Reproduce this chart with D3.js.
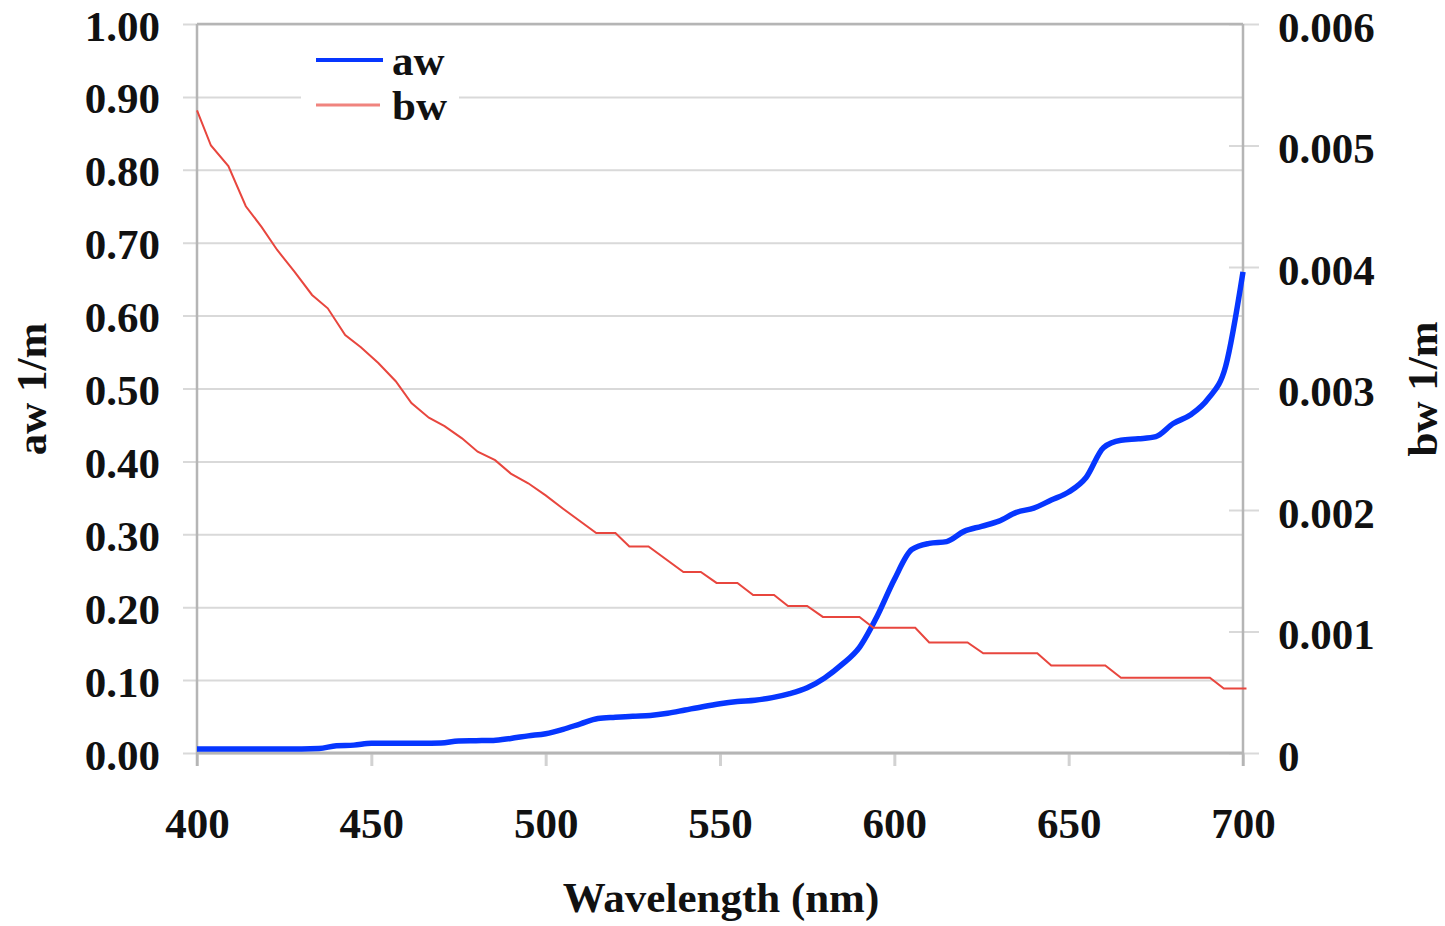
<!DOCTYPE html>
<html>
<head>
<meta charset="utf-8">
<script src="https://cdn.jsdelivr.net/npm/d3@7/dist/d3.min.js"></script>
<style>
  html, body { margin: 0; padding: 0; background: #fff; }
  svg { display: block; }
  text { font-family: "Liberation Serif", "Times New Roman", serif; font-weight: bold; fill: #111; }
</style>
</head>
<body>
<svg id="chart" width="1445" height="926"></svg>
<script>
// Pure-water absorption (aw) and scattering (bw) spectra, 400–700 nm
const wavelengths = [400,405,410,415,420,425,430,435,440,445,450,455,460,465,470,475,480,485,490,495,
  500,505,510,515,520,525,530,535,540,545,550,555,560,565,570,575,580,585,590,595,
  600,605,610,615,620,625,630,635,640,645,650,655,660,665,670,675,680,685,690,695,700];
const awValues = [0.0055,0.0055,0.0055,0.0055,0.0055,0.0056,0.0056,0.0062,0.0100,0.0108,
  0.0133,0.0133,0.0134,0.0135,0.0138,0.0166,0.0169,0.0172,0.0200,0.0235,
  0.0265,0.0325,0.0400,0.0472,0.0490,0.0505,0.0515,0.0545,0.0590,0.0635,
  0.0675,0.0705,0.0725,0.0760,0.0815,0.0895,0.1030,0.1215,0.1450,0.1870,
  0.2380,0.2790,0.2875,0.2900,0.3040,0.3110,0.3180,0.3300,0.3360,0.3470,
  0.3580,0.3780,0.4190,0.4290,0.4310,0.4340,0.4520,0.4640,0.4860,0.5300,0.6600];

// bw is tabulated with coarse precision, so it is kept as a list of breakpoints
const bwWavelengths = [400,404,409,414,418.5,423,428,433,437.5,442.5,447,452,457,461.5,466.5,471,476,480.5,485.5,490,
  495,500,505,514.5,520,524,529.5,539.5,544.5,549,555,559.5,565.5,569.5,575,579.5,590,594,606,610,
  621,625.5,641,645,660.5,665,690.5,694.5,701];
const bwValues = [0.00529,0.00500,0.00483,0.00450,0.00433,0.00414,0.00396,0.00377,0.00366,0.00344,
  0.00334,0.00321,0.00306,0.00288,0.00276,0.00269,0.00259,0.00248,0.00241,0.00230,
  0.00222,0.00212,0.00201,0.00181,0.00181,0.00170,0.00170,0.00149,0.00149,0.00140,
  0.00140,0.00130,0.00130,0.00121,0.00121,0.00112,0.00112,0.00103,0.00103,0.00091,
  0.00091,0.00082,0.00082,0.00072,0.00072,0.00062,0.00062,0.00053,0.00053];

const xTicks = [400,450,500,550,600,650,700];
const leftTicks = [0,0.1,0.2,0.3,0.4,0.5,0.6,0.7,0.8,0.9,1.0];
const rightTicks = [0,0.001,0.002,0.003,0.004,0.005,0.006];
const seriesNames = ["aw","bw"];
const xTitle = "Wavelength (nm)";
const leftTitle = "aw 1/m";
const rightTitle = "bw 1/m";

const plot = {left: 197, right: 1243, top: 24, bottom: 753};
const svg = d3.select("#chart");
svg.append("rect").attr("width",1445).attr("height",926).attr("fill","#fff");

const x = d3.scaleLinear().domain([400,700]).range([plot.left, plot.right]);
const yL = d3.scaleLinear().domain([0,1]).range([plot.bottom, plot.top]);
const yR = d3.scaleLinear().domain([0,0.006]).range([plot.bottom, plot.top]);

const gridColor = "#d9d9d9";
const axisColor = "#b5b5b5";
const fontSize = 43;

// horizontal gridlines from the left axis, with short outer ticks
const gLeft = svg.append("g").attr("transform", `translate(${plot.left},0)`)
  .call(d3.axisLeft(yL).tickValues(leftTicks).tickSizeInner(-(plot.right-plot.left)).tickSizeOuter(0).tickFormat(d3.format(".2f")));
gLeft.select(".domain").remove();
gLeft.selectAll(".tick line").attr("x1", -14).attr("stroke", gridColor).attr("stroke-width", 2);
gLeft.selectAll(".tick text").attr("x", -37).attr("dy", null).attr("y", 16)
  .style("font-size", fontSize + "px").style("font-family", "Liberation Serif").attr("fill", "#111");

// right (secondary) axis ticks crossing the axis line
const gRight = svg.append("g").attr("transform", `translate(${plot.right},0)`)
  .call(d3.axisRight(yR).tickValues(rightTicks).tickSizeInner(16).tickSizeOuter(0)
    .tickFormat(d => d === 0 ? "0" : d3.format(".3f")(d)));
gRight.select(".domain").remove();
gRight.selectAll(".tick line").attr("x1", -14).attr("x2", 16).attr("stroke", gridColor).attr("stroke-width", 2);
gRight.selectAll(".tick text").attr("x", 35).attr("dy", null).attr("y", 17)
  .style("font-size", fontSize + "px").style("font-family", "Liberation Serif").attr("fill", "#111");

// bottom axis
const gBottom = svg.append("g").attr("transform", `translate(0,${plot.bottom})`)
  .call(d3.axisBottom(x).tickValues(xTicks).tickSizeInner(13).tickSizeOuter(0).tickFormat(d3.format("d")));
gBottom.select(".domain").remove();
gBottom.selectAll(".tick line").attr("stroke", "#d2d2d2").attr("stroke-width", 3);
gBottom.selectAll(".tick text").attr("y", 85).attr("dy", null)
  .style("font-size", fontSize + "px").style("font-family", "Liberation Serif").attr("fill", "#111");

// frame lines
svg.append("line").attr("x1", plot.left).attr("x2", plot.right).attr("y1", plot.top).attr("y2", plot.top)
  .attr("stroke", axisColor).attr("stroke-width", 2.5);
svg.append("line").attr("x1", plot.left).attr("x2", plot.left).attr("y1", plot.top).attr("y2", plot.bottom + 13)
  .attr("stroke", axisColor).attr("stroke-width", 2.5);
svg.append("line").attr("x1", plot.right).attr("x2", plot.right).attr("y1", plot.top).attr("y2", plot.bottom + 13)
  .attr("stroke", axisColor).attr("stroke-width", 2.5);
svg.append("line").attr("x1", plot.left).attr("x2", plot.right).attr("y1", plot.bottom).attr("y2", plot.bottom)
  .attr("stroke", axisColor).attr("stroke-width", 3);

// aw curve (left axis)
const awData = wavelengths.map((w, i) => ({w, v: awValues[i]}));
svg.append("path").datum(awData)
  .attr("fill", "none").attr("stroke", "#0636ff").attr("stroke-width", 5.5)
  .attr("d", d3.line().x(d => x(d.w)).y(d => yL(d.v)).curve(d3.curveMonotoneX));

// bw curve (right axis)
const bwData = bwWavelengths.map((w, i) => ({w, v: bwValues[i]}));
svg.append("path").datum(bwData)
  .attr("fill", "none").attr("stroke", "#e8463e").attr("stroke-width", 2)
  .attr("d", d3.line().x(d => x(d.w)).y(d => yR(d.v)));

// legend
const legend = svg.append("g");
legend.append("rect").attr("x", 301).attr("y", 38).attr("width", 158).attr("height", 88).attr("fill", "#fff");
const legendItems = [
  {name: seriesNames[0], color: "#0636ff", width: 4, y: 60, x2: 383},
  {name: seriesNames[1], color: "#f0847e", width: 3, y: 105, x2: 380}
];
legendItems.forEach(it => {
  legend.append("line").attr("x1", 316).attr("x2", it.x2).attr("y1", it.y).attr("y2", it.y)
    .attr("stroke", it.color).attr("stroke-width", it.width);
  legend.append("text").attr("x", 392).attr("y", it.y + 15).style("font-size", fontSize + "px").text(it.name);
});

// axis titles
svg.append("text").attr("x", 721).attr("y", 912).attr("text-anchor", "middle")
  .style("font-size", fontSize + "px").text(xTitle);
svg.append("text").attr("transform", "translate(46,389) rotate(-90)").attr("text-anchor", "middle")
  .style("font-size", fontSize + "px").text(leftTitle);
svg.append("text").attr("transform", "translate(1437,389) rotate(-90)").attr("text-anchor", "middle")
  .style("font-size", fontSize + "px").text(rightTitle);
</script>
</body>
</html>
